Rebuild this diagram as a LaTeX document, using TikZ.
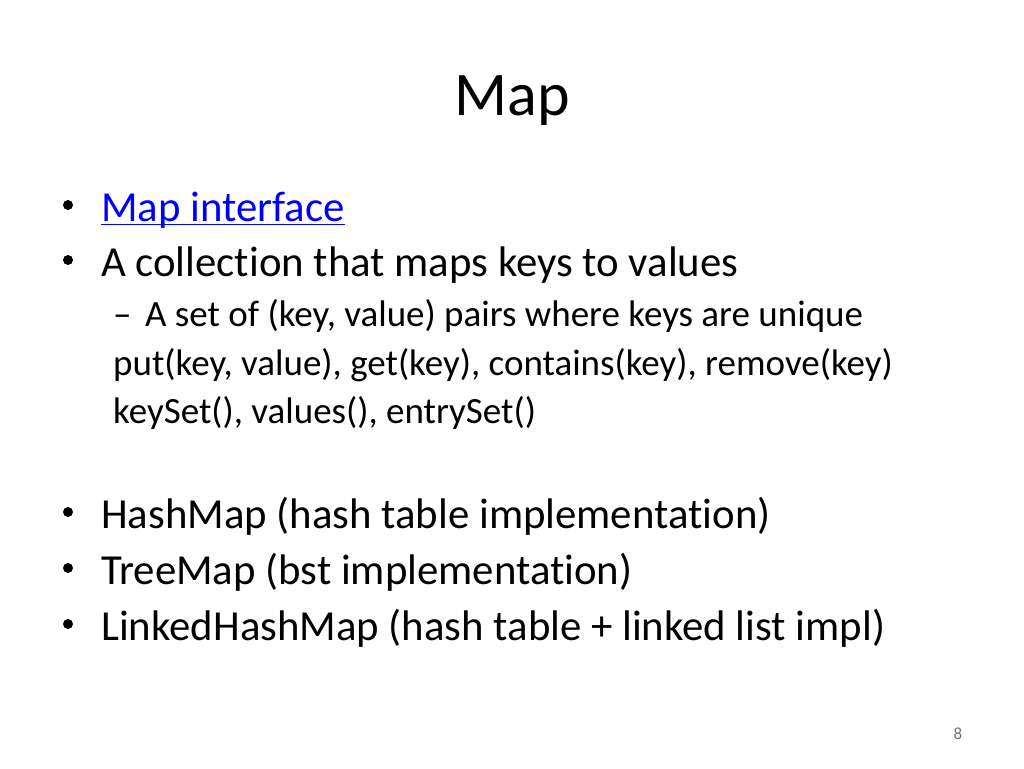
\documentclass[tikz,border=0pt]{standalone}
\usepackage{fontspec}
\setmainfont{Carlito}[Ligatures=NoCommon]
\definecolor{linkblue}{RGB}{0,0,255}
\begin{document}
\begin{tikzpicture}[x=1pt,y=-1pt,
  title/.style={anchor=base,inner sep=0pt,font=\fontsize{62}{62}\selectfont},
  lvl/.style={anchor=base west,inner sep=0pt,font=\fontsize{42.8}{43}\selectfont},
  sub/.style={anchor=base west,inner sep=0pt,font=\fontsize{37}{37}\selectfont},
  bul/.style={circle,fill=black,inner sep=0pt,minimum size=10pt},
  pnum/.style={anchor=base,inner sep=0pt,font=\fontsize{17}{17}\selectfont,text=black!55}]
\useasboundingbox (0,0) rectangle (1024,768);
\node[title] (t) at (512,115) {Map};
\node[bul] (b1) at (68,205) {};
\node[lvl,text=linkblue] (l1) at (101,221) {Map interface};
\draw[linkblue,line width=1.8pt] ([yshift=-3.5pt]l1.base west) -- ([yshift=-3.5pt]l1.base east);
\node[bul] (b2) at (68,260) {};
\node[lvl] (l2) at (101,276) {A collection that maps keys to values};
\node[sub] (d1) at (113,326) {–};
\node[sub] (s1) at (145,326) {A set of (key, value) pairs where keys are unique};
\node[sub] (s2) at (113,375) {put(key, value), get(key), contains(key), remove(key)};
\node[sub] (s3) at (113,423) {keySet(), values(), entrySet()};
\node[bul] (b3) at (68,512) {};
\node[lvl] (l3) at (101,528) {HashMap (hash table implementation)};
\node[bul] (b4) at (68,568) {};
\node[lvl] (l4) at (101,584) {TreeMap (bst implementation)};
\node[bul] (b5) at (68,624) {};
\node[lvl] (l5) at (101,640) {LinkedHashMap (hash table + linked list impl)};
\node[pnum] (pn) at (958,739) {8};
\end{tikzpicture}
\end{document}
